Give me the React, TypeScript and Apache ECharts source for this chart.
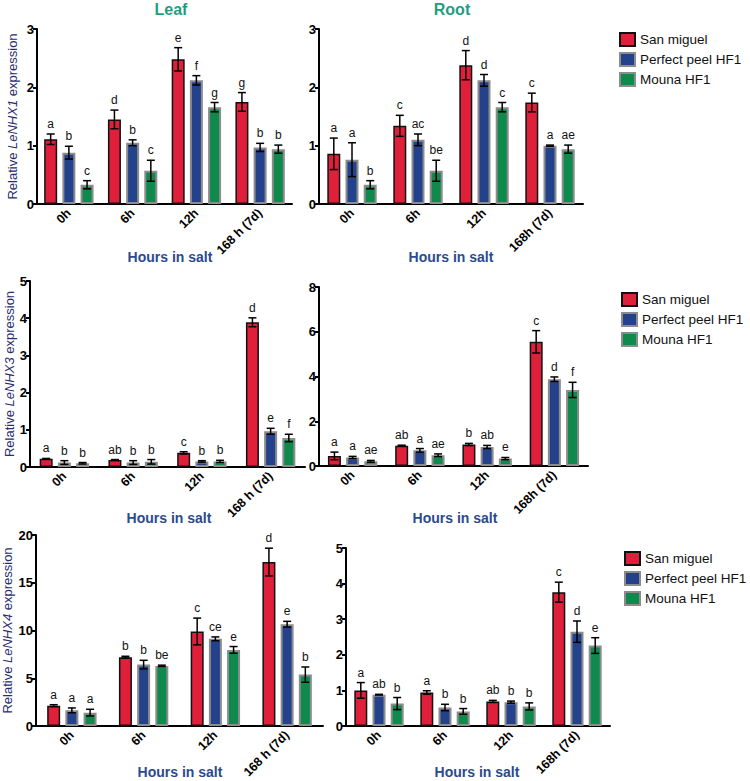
import React, { useEffect, useRef } from "react";
import * as echarts from "echarts";

const FONT = "'Liberation Sans', Arial, Helvetica, sans-serif";

// ---------- data ----------
const seriesNames = ["San miguel", "Perfect peel HF1", "Mouna HF1"];
const catsSpaced = ["0h", "6h", "12h", "168 h (7d)"];
const catsTight = ["0h", "6h", "12h", "168h (7d)"];

// LeNHX1 – Leaf
const nhx1LeafMeans = [
  [1.11, 1.45, 2.48, 1.75],
  [0.88, 1.05, 2.12, 0.97],
  [0.33, 0.57, 1.66, 0.94],
];
const nhx1LeafErrs = [
  [0.09, 0.16, 0.2, 0.16],
  [0.11, 0.05, 0.08, 0.07],
  [0.07, 0.18, 0.08, 0.07],
];
const nhx1LeafLetters = [
  ["a", "d", "e", "g"],
  ["b", "b", "f", "b"],
  ["c", "c", "g", "b"],
];

// LeNHX1 – Root
const nhx1RootMeans = [
  [0.86, 1.34, 2.38, 1.74],
  [0.76, 1.1, 2.12, 1.0],
  [0.33, 0.57, 1.66, 0.94],
];
const nhx1RootErrs = [
  [0.27, 0.18, 0.25, 0.16],
  [0.29, 0.1, 0.1, 0.01],
  [0.07, 0.18, 0.08, 0.07],
];
const nhx1RootLetters = [
  ["a", "c", "d", "c"],
  ["a", "ac", "d", "a"],
  ["b", "be", "c", "ae"],
];

// LeNHX3 – Leaf
const nhx3LeafMeans = [
  [0.22, 0.19, 0.38, 3.89],
  [0.12, 0.12, 0.15, 0.96],
  [0.1, 0.14, 0.15, 0.78],
];
const nhx3LeafErrs = [
  [0.01, 0.01, 0.03, 0.12],
  [0.05, 0.05, 0.02, 0.08],
  [0.02, 0.06, 0.03, 0.1],
];
const nhx3LeafLetters = [
  ["a", "ab", "c", "d"],
  ["b", "b", "b", "e"],
  ["b", "b", "b", "f"],
];

// LeNHX3 – Root
const nhx3RootMeans = [
  [0.45, 0.91, 0.96, 5.55],
  [0.38, 0.7, 0.85, 3.88],
  [0.21, 0.48, 0.33, 3.4],
];
const nhx3RootErrs = [
  [0.17, 0.02, 0.05, 0.5],
  [0.05, 0.08, 0.07, 0.1],
  [0.04, 0.06, 0.05, 0.34],
];
const nhx3RootLetters = [
  ["a", "ab", "b", "c"],
  ["a", "a", "ab", "d"],
  ["ae", "ae", "e", "f"],
];

// LeNHX4 – Leaf
const nhx4LeafMeans = [
  [2.13, 7.2, 9.9, 17.17],
  [1.64, 6.43, 9.13, 10.66],
  [1.4, 6.29, 7.97, 5.38],
];
const nhx4LeafErrs = [
  [0.1, 0.1, 1.4, 1.45],
  [0.25, 0.45, 0.2, 0.3],
  [0.35, 0.08, 0.35, 0.8],
];
const nhx4LeafLetters = [
  ["a", "b", "c", "d"],
  ["a", "b", "ce", "e"],
  ["a", "be", "e", "b"],
];

// LeNHX4 – Root
const nhx4RootMeans = [
  [1.0, 0.94, 0.69, 3.76],
  [0.88, 0.52, 0.67, 2.65],
  [0.63, 0.41, 0.55, 2.26],
];
const nhx4RootErrs = [
  [0.22, 0.05, 0.03, 0.28],
  [0.01, 0.09, 0.03, 0.3],
  [0.17, 0.08, 0.1, 0.22],
];
const nhx4RootLetters = [
  ["a", "a", "ab", "c"],
  ["ab", "b", "b", "d"],
  ["b", "b", "b", "e"],
];

const yMax = [3, 3, 5, 8, 20, 5];
const yInterval = [1, 1, 1, 2, 5, 1];
const genes = ["LeNHX1", "", "LeNHX3", "", "LeNHX4", ""];

// ---------- layout / style ----------
const panels = [
  { cats: catsSpaced, means: nhx1LeafMeans, errs: nhx1LeafErrs, letters: nhx1LeafLetters },
  { cats: catsTight, means: nhx1RootMeans, errs: nhx1RootErrs, letters: nhx1RootLetters },
  { cats: catsSpaced, means: nhx3LeafMeans, errs: nhx3LeafErrs, letters: nhx3LeafLetters },
  { cats: catsTight, means: nhx3RootMeans, errs: nhx3RootErrs, letters: nhx3RootLetters },
  { cats: catsSpaced, means: nhx4LeafMeans, errs: nhx4LeafErrs, letters: nhx4LeafLetters },
  { cats: catsTight, means: nhx4RootMeans, errs: nhx4RootErrs, letters: nhx4RootLetters },
];

const grids = [
  { left: 37, top: 29, width: 255, height: 175 },
  { left: 319, top: 29, width: 264, height: 175 },
  { left: 30, top: 281, width: 275, height: 186 },
  { left: 319, top: 287, width: 269, height: 179 },
  { left: 35, top: 535, width: 288, height: 191 },
  { left: 346, top: 548, width: 264, height: 178 },
];
const nameGaps = [18, 0, 13, 0, 22, 0];

const fillColors = ["#e01f3a", "#24428c", "#0d8a4c"];
const borderColors = ["#111111", "#8c8c8c", "#8c8c8c"];
const borderWidths = [1.5, 2, 2];
const BAR_W = 13;
const BAR_GAP = 0.4;

const legendPos = [
  { left: 619, top: 32 },
  { left: 621, top: 292 },
  { left: 624, top: 551 },
];

const axisTitlePos = [
  { x: 170, y: 257 },
  { x: 451, y: 257 },
  { x: 169, y: 518 },
  { x: 455, y: 518 },
  { x: 180, y: 772 },
  { x: 477, y: 772 },
];

const tissueTitles = [
  { text: "Leaf", x: 171, y: 9 },
  { text: "Root", x: 452, y: 9 },
];

function buildOption() {
  const axisLineStyle = { color: "#000", width: 2 };
  const xAxis: any[] = [];
  const yAxis: any[] = [];
  const series: any[] = [];

  panels.forEach((p, pi) => {
    xAxis.push({
      type: "category",
      gridIndex: pi,
      data: p.cats,
      axisLine: { lineStyle: axisLineStyle },
      axisTick: { alignWithLabel: true, length: 5, lineStyle: { color: "#000", width: 2 } },
      axisLabel: {
        rotate: 45,
        interval: 0,
        fontWeight: "bold",
        fontSize: 12.5,
        color: "#000",
        fontFamily: FONT,
        margin: 7,
      },
      splitLine: { show: false },
    });
    const gene = genes[pi];
    yAxis.push({
      type: "value",
      gridIndex: pi,
      min: 0,
      max: yMax[pi],
      interval: yInterval[pi],
      axisLine: { show: true, lineStyle: axisLineStyle },
      axisTick: { show: true, length: 4, lineStyle: { color: "#000", width: 2 } },
      axisLabel: { fontWeight: "bold", fontSize: 13, color: "#000", fontFamily: FONT, margin: 3 },
      splitLine: { show: false },
      name: gene ? `{n|Relative }{i|${gene}}{n| expression}` : "",
      nameLocation: "middle",
      nameGap: nameGaps[pi],
      nameTextStyle: {
        rich: {
          n: { fontSize: 13, color: "#2a2e6e", fontFamily: FONT },
          i: { fontSize: 13, color: "#2a2e6e", fontFamily: FONT, fontStyle: "italic" },
        },
      },
    });

    p.means.forEach((vals, si) => {
      series.push({
        type: "bar",
        name: seriesNames[si],
        xAxisIndex: pi,
        yAxisIndex: pi,
        data: vals,
        barWidth: BAR_W,
        barGap: `${BAR_GAP * 100}%`,
        itemStyle: {
          color: fillColors[si],
          borderColor: borderColors[si],
          borderWidth: borderWidths[si],
        },
        z: 2,
      });
    });
    p.means.forEach((vals, si) => {
      const errs = p.errs[si];
      const letters = p.letters[si];
      const offset = (si - 1) * (BAR_W + BAR_W * BAR_GAP);
      series.push({
        type: "custom",
        name: `err-${pi}-${si}`,
        xAxisIndex: pi,
        yAxisIndex: pi,
        silent: true,
        z: 5,
        encode: { x: 0, y: 1 },
        data: vals.map((m, i) => [i, m, errs[i]]),
        renderItem: (params: any, api: any) => {
          const idx = api.value(0);
          const m = api.value(1);
          const e = api.value(2);
          const c = api.coord([idx, m]);
          const x = c[0] + offset;
          const yTop = api.coord([idx, m + e])[1];
          const yBot = api.coord([idx, Math.max(0, m - e)])[1];
          const half = 4;
          const st = { stroke: "#000", lineWidth: 1.5 };
          return {
            type: "group",
            children: [
              { type: "line", shape: { x1: x, y1: yTop, x2: x, y2: yBot }, style: st },
              { type: "line", shape: { x1: x - half, y1: yTop, x2: x + half, y2: yTop }, style: st },
              { type: "line", shape: { x1: x - half, y1: yBot, x2: x + half, y2: yBot }, style: st },
              {
                type: "text",
                x: x,
                y: yTop - 4,
                style: {
                  text: letters[params.dataIndex],
                  textAlign: "center",
                  textVerticalAlign: "bottom",
                  fontSize: 12,
                  fontFamily: FONT,
                  fill: "#111",
                },
              },
            ],
          };
        },
      });
    });
  });

  const legend = legendPos.map((lp) => ({
    data: seriesNames,
    orient: "vertical",
    left: lp.left,
    top: lp.top,
    padding: 0,
    itemWidth: 15,
    itemHeight: 13,
    itemGap: 5,
    icon: "rect",
    selectedMode: false,
    textStyle: { fontSize: 13.5, fontFamily: FONT, color: "#111" },
  }));

  const graphic: any[] = [];
  tissueTitles.forEach((t) => {
    graphic.push({
      type: "text",
      x: t.x,
      y: t.y,
      style: {
        text: t.text,
        textAlign: "center",
        textVerticalAlign: "middle",
        fontSize: 16,
        fontWeight: "bold",
        fontFamily: FONT,
        fill: "#1f9e7f",
      },
    });
  });
  axisTitlePos.forEach((a) => {
    graphic.push({
      type: "text",
      x: a.x,
      y: a.y,
      style: {
        text: "Hours in salt",
        textAlign: "center",
        textVerticalAlign: "middle",
        fontSize: 14,
        fontWeight: "bold",
        fontFamily: FONT,
        fill: "#2b4a8f",
      },
    });
  });

  return {
    animation: false,
    backgroundColor: "#ffffff",
    textStyle: { fontFamily: FONT },
    grid: grids.map((g) => ({ ...g, containLabel: false })),
    xAxis,
    yAxis,
    legend,
    series,
    graphic,
  };
}

export default function App() {
  const ref = useRef<HTMLDivElement>(null);
  useEffect(() => {
    if (!ref.current) return;
    const chart = echarts.init(ref.current, undefined, { renderer: "svg" });
    chart.setOption(buildOption() as any);
    return () => chart.dispose();
  }, []);
  return (
    <div
      ref={ref}
      style={{ position: "absolute", left: 0, top: 0, width: 750, height: 781, background: "#fff" }}
    />
  );
}
